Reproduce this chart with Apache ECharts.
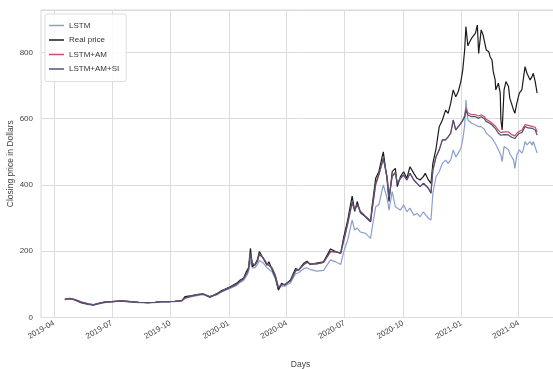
<!DOCTYPE html>
<html>
<head>
<meta charset="utf-8">
<script src="https://cdn.jsdelivr.net/npm/echarts@6/dist/echarts.min.js"></script>
<style>
html,body{margin:0;padding:0;background:#fff;}
#chart{width:553px;height:369px;}
</style>
</head>
<body>
<div id="chart"></div>
<script>
const dates = [
"2019-04-18","2019-04-26","2019-05-04","2019-05-14","2019-05-25","2019-06-02","2019-06-10","2019-06-20","2019-07-01","2019-07-16",
"2019-07-27","2019-08-12","2019-08-27","2019-09-07","2019-09-17","2019-09-28","2019-10-08","2019-10-19","2019-10-24","2019-11-04",
"2019-11-14","2019-11-22","2019-12-02","2019-12-13","2019-12-18","2019-12-23","2020-01-03","2020-01-13","2020-01-19","2020-01-24",
"2020-01-29","2020-02-01","2020-02-04","2020-02-07","2020-02-11","2020-02-15","2020-02-18","2020-02-24","2020-03-01","2020-03-04",
"2020-03-09","2020-03-14","2020-03-19","2020-03-24","2020-03-29","2020-04-07","2020-04-15","2020-04-20","2020-04-28","2020-05-03",
"2020-05-08","2020-05-18","2020-05-29","2020-06-09","2020-06-17","2020-06-25","2020-06-30","2020-07-06","2020-07-13","2020-07-17",
"2020-07-21","2020-07-26","2020-08-03","2020-08-11","2020-08-13","2020-08-19","2020-08-24","2020-08-31","2020-09-06","2020-09-09",
"2020-09-14","2020-09-19","2020-09-22","2020-09-27","2020-10-02","2020-10-07","2020-10-12","2020-10-18","2020-10-23","2020-10-28",
"2020-11-02","2020-11-05","2020-11-10","2020-11-14","2020-11-17","2020-11-22","2020-11-27","2020-12-02","2020-12-07","2020-12-11",
"2020-12-15","2020-12-19","2020-12-23","2020-12-27","2020-12-31","2021-01-03","2021-01-06","2021-01-08","2021-01-11","2021-01-14",
"2021-01-17","2021-01-23","2021-01-26","2021-01-28","2021-02-01","2021-02-04","2021-02-06","2021-02-09","2021-02-13","2021-02-15",
"2021-02-18","2021-02-20","2021-02-23","2021-02-24","2021-02-28","2021-03-03","2021-03-04","2021-03-06","2021-03-09","2021-03-12",
"2021-03-16","2021-03-18","2021-03-21","2021-03-24","2021-03-26","2021-03-29","2021-04-02","2021-04-06","2021-04-08","2021-04-11",
"2021-04-14","2021-04-16","2021-04-19","2021-04-22","2021-04-24","2021-04-27","2021-04-30"
];
const realPrice = [
55,58,53,45,40,38,43,47,48,50, 48,46,45,46,48,48,49,51,63,66,
70,71,61,72,78,83,93,103,113,118, 140,150,209,153,160,175,199,179,158,168,
145,123,83,103,98,113,148,143,164,170, 160,164,168,207,199,194,245,294,366,320,
350,316,304,289,330,420,440,500,415,350, 440,450,395,425,440,420,455,435,420,415,
425,435,415,405,465,510,576,596,626,616, 646,687,666,682,712,747,807,878,820,832,
843,858,883,797,868,853,858,807,802,787, 777,742,717,687,707,677,596,566,687,712,
697,662,666,626,616,646,677,687,692,757, 737,742,717,727,737,712,677
];
const lstmAM = [
55,57,54,47,41,39,42,46,48,50, 49,46,45,46,48,48,49,51,58,65,
69,71,63,70,76,81,91,100,110,116, 132,145,190,165,158,170,190,180,162,165,
150,128,92,98,100,110,140,144,160,166, 162,162,166,198,198,194,232,282,345,325,
340,320,305,292,318,400,430,478,425,365, 425,435,405,420,430,415,435,415,405,395,
405,408,390,375,445,485,506,536,536,545, 556,596,566,576,586,595,610,632,618,614,
612,612,614,608,612,610,606,598,594,590, 586,582,578,574,565,561,558,556,560,563,
560,555,552,550,548,556,562,565,568,582, 578,580,578,577,576,574,560
];
const lstmAMSI = [
55,57,54,46,41,38,42,46,48,50, 49,46,45,46,48,48,49,51,59,65,
69,71,63,70,76,81,91,100,110,116, 133,146,195,162,158,170,192,180,161,165,
149,127,90,99,100,110,142,144,160,167, 162,162,166,200,198,194,235,285,350,324,
342,320,305,291,320,405,432,482,422,362, 428,438,405,420,430,415,435,415,405,395,
405,408,390,375,445,485,506,536,536,545, 556,596,566,576,586,595,605,626,611,608,
606,606,608,601,606,604,600,591,588,584, 581,576,571,567,556,552,550,548,552,556,
551,546,544,541,540,548,556,558,560,576, 571,572,570,571,570,566,551
];
const lstm = [
54,56,52,44,39,37,41,45,47,49, 47,45,44,45,47,47,48,50,58,63,
67,69,61,68,74,79,88,97,106,111, 126,138,172,150,150,160,172,165,150,155,
138,118,85,95,94,105,132,135,148,150, 145,140,142,174,168,160,200,234,294,264,
270,258,254,239,265,334,340,400,360,324, 380,334,340,324,340,319,330,309,314,304,
319,315,299,294,375,425,440,465,475,465, 475,506,485,496,511,536,580,656,596,590,
586,581,578,576,576,572,568,556,550,545, 541,535,526,520,506,500,490,470,516,516,
506,495,485,475,450,490,506,496,505,531, 521,526,531,520,531,526,496
];
const tickLabels = ["2019-04","2019-07","2019-10","2020-01","2020-04","2020-07","2020-10","2021-01","2021-04"];
const yTicks = [0,200,400,600,800];

const t = s => Date.parse(s + "T00:00:00Z");
const ts = dates.map(t);
const pair = arr => arr.map((v, i) => [ts[i], v]);
const tickValues = tickLabels.map(l => t(l + "-01"));
const labelOf = v => { const i = tickValues.indexOf(v); return i >= 0 ? tickLabels[i] : ""; };

const FONT = '"Liberation Sans", Arial, sans-serif';
const chart = echarts.init(document.getElementById('chart'), null, {renderer: 'canvas'});
const lineS = (name, data, color, z) => ({
  name, type: 'line', data: pair(data), showSymbol: false, symbol: 'none',
  lineStyle: {color, width: 1.2}, itemStyle: {color}, z, animation: false
});
chart.setOption({
  animation: false,
  backgroundColor: '#ffffff',
  grid: {left: 41, top: 10, right: -7, bottom: 51.5, containLabel: false, outerBoundsMode: 'none',
    show: true, borderColor: '#d8d8d8', borderWidth: 1, backgroundColor: 'transparent'},
  legend: {
    orient: 'vertical', left: 45, top: 14, padding: [7, 7, 8, 4],
    icon: 'rect', itemWidth: 15, itemHeight: 1.5, itemGap: 5.5,
    backgroundColor: 'rgba(255,255,255,0.85)', borderColor: '#dddddd', borderWidth: 1, borderRadius: 2,
    textStyle: {fontSize: 8, lineHeight: 9, color: '#333', fontFamily: FONT},
    data: ['LSTM', 'Real price', 'LSTM+AM', 'LSTM+AM+SI']
  },
  xAxis: {
    type: 'value',
    min: t('2019-03-11') + 12 * 3600e3,
    max: t('2021-06-05'),
    name: 'Days', nameLocation: 'middle', nameGap: 43, nameMoveOverlap: false,
    nameTextStyle: {fontSize: 8.5, color: '#444', fontFamily: FONT},
    axisLine: {show: false},
    axisTick: {show: false, customValues: tickValues},
    axisLabel: {customValues: tickValues, rotate: 30, fontSize: 8, color: '#444', margin: 5,
      fontFamily: FONT, formatter: v => labelOf(v)},
    splitLine: {show: true, lineStyle: {color: '#dcdcdc', width: 1}}
  },
  yAxis: {
    type: 'value', min: 0, max: 928, interval: 200,
    name: 'Closing price in Dollars', nameLocation: 'middle', nameGap: 26, nameMoveOverlap: false,
    nameTextStyle: {fontSize: 8.5, color: '#444', fontFamily: FONT},
    axisLine: {show: false}, axisTick: {show: false},
    axisLabel: {fontSize: 8, color: '#444', margin: 8, showMaxLabel: false,
      fontFamily: FONT,
      formatter: v => yTicks.indexOf(v) >= 0 ? String(v) : ''},
    splitLine: {show: true, lineStyle: {color: '#dcdcdc', width: 1}}
  },
  series: [
    lineS('LSTM', lstm, '#8aa0cc', 2),
    lineS('Real price', realPrice, '#1c1c1c', 3),
    lineS('LSTM+AM', lstmAM, '#cc4f68', 4),
    lineS('LSTM+AM+SI', lstmAMSI, '#4b5478', 5)
  ]
});
</script>
</body>
</html>
